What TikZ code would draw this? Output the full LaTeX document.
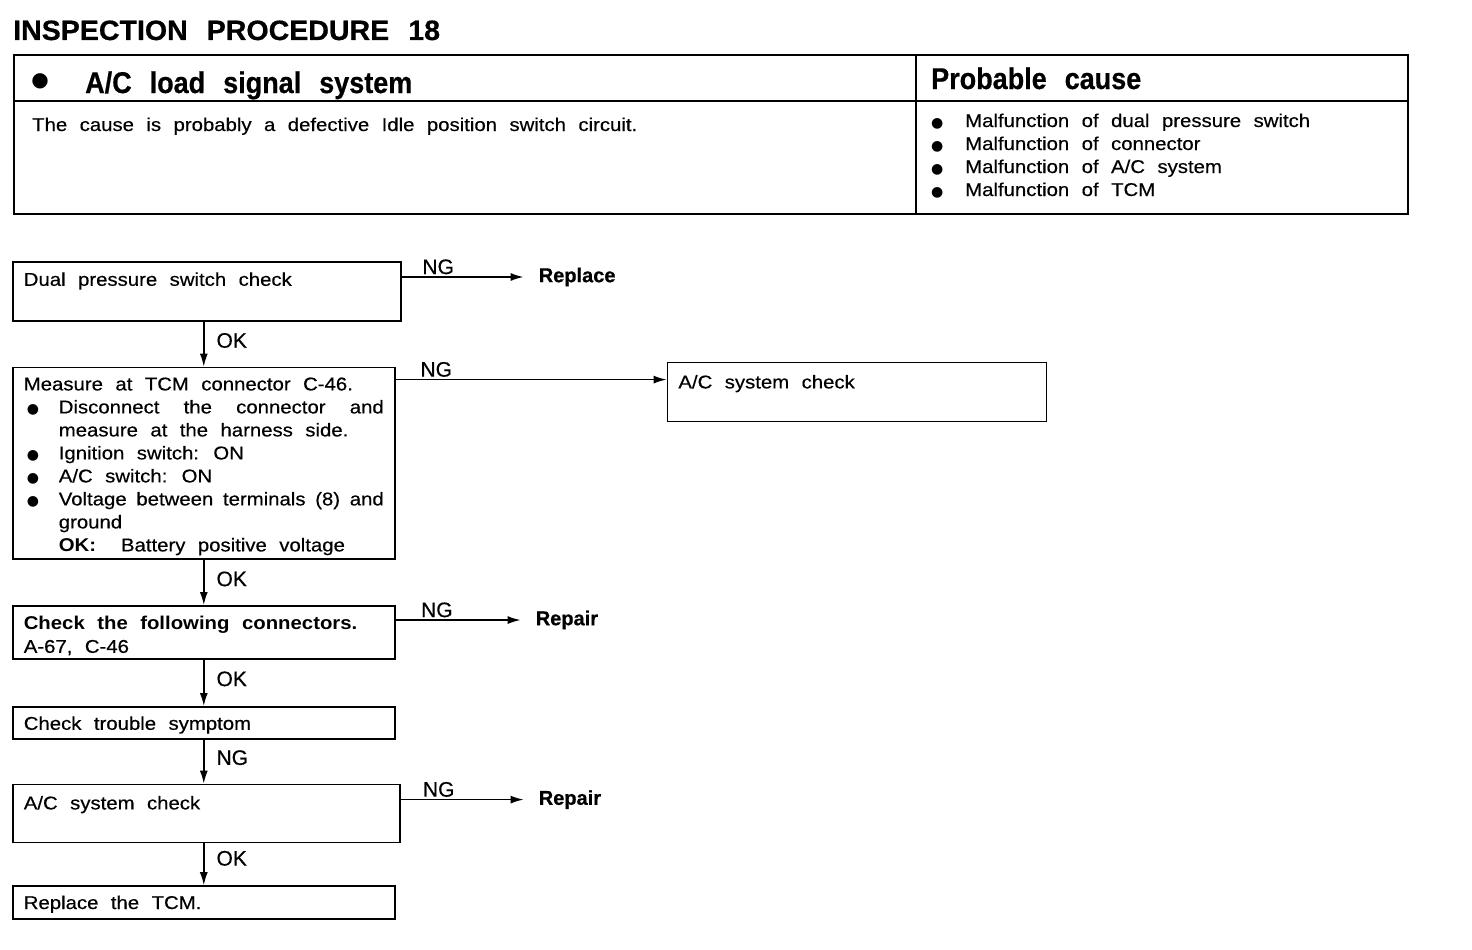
\documentclass[tikz,border=0pt]{standalone}
\usepackage{fontspec}
\setmainfont{Liberation Sans}[FakeStretch=1.1,WordSpace=2.2,UprightFeatures={FakeBold=0.4}]
\newfontfamily\hdfont{Liberation Sans}[WordSpace=2.4,UprightFeatures={FakeBold=0.5},BoldFeatures={FakeBold=0.6}]
\newfontfamily\symfont{DejaVu Sans}
\usetikzlibrary{arrows.meta,positioning,calc}

\newcommand\txtsize{\fontsize{18.5}{23}\selectfont}
\newcommand\bul{{\symfont\fontsize{14}{14}\selectfont ●}}
\newcommand\bigbul{{\symfont\fontsize{20}{20}\selectfont ●}}
\newcommand\itm[1]{\par\hangindent=35pt\hangafter=1\noindent\makebox[35pt][l]{\hspace{3pt}\bul}#1\par}

\begin{document}
\begin{tikzpicture}[x=1pt,y=1pt,node distance=45pt,
  frame/.style={draw,line width=1.8pt},
  box/.style={rectangle,draw,line width=1.6pt,inner xsep=11pt,inner ysep=4pt,
              text width=360pt,align=justify,font=\txtsize},
  plain/.style={anchor=base west,inner sep=0pt,font=\txtsize},
  head/.style={anchor=base west,inner sep=0pt,font=\hdfont\fontsize{30}{30}\selectfont\bfseries\addfontfeature{FakeStretch=0.9}},
  lbl/.style={font=\hdfont\fontsize{21}{21}\selectfont,inner sep=2pt},
  res/.style={anchor=west,inner sep=0pt,font=\hdfont\fontsize{20}{20}\selectfont\bfseries},
  flow/.style={draw,-{Latex[length=13pt,width=8pt]},line width=1.5pt}]
\useasboundingbox (0,0) rectangle (1472,-950);

% heading and cause table
\node[anchor=base west,inner sep=0pt,font=\hdfont\fontsize{28}{28}\selectfont\bfseries\addfontfeature{FakeStretch=1.02}] (title) at (13,-40) {INSPECTION PROCEDURE 18};
\draw[frame] (14,-55) rectangle (1408,-214);
\draw[frame] (14,-101) -- (1408,-101);
\draw[frame] (916,-55) -- (916,-214);
\node[inner sep=0pt] (hdbul) at (40,-81) {\bigbul};
\node[head] (hdA) at (85,-93) {A/C load signal system};
\node[head] (hdB) at (931,-89) {Probable cause};
\node[plain] (cause) at (32,-131) {The cause is probably a defective Idle position switch circuit.};
\node[plain] (pc1) at (931,-127) {\makebox[34pt][l]{\bul}Malfunction of dual pressure switch};
\node[plain] (pc2) at (931,-150) {\makebox[34pt][l]{\bul}Malfunction of connector};
\node[plain] (pc3) at (931,-173) {\makebox[34pt][l]{\bul}Malfunction of A/C system};
\node[plain] (pc4) at (931,-196) {\makebox[34pt][l]{\bul}Malfunction of TCM};

% flow chart
\node[box,text width=366pt,text height=20pt,text depth=31pt,anchor=north west] (dps) at (12,-261) {Dual pressure switch check};
\node[box,text height=19pt,below=of dps.south west,anchor=north west] (meas)
  {Measure at TCM connector C-46.
   \itm{Disconnect the connector and\linebreak measure at the harness side.}
   \itm{Ignition switch: ON}
   \itm{A/C switch: ON}
   \itm{Voltage between terminals (8) and\linebreak ground\hfil\break\textbf{OK:}\ \ Battery positive voltage}};
\node[box,text height=20pt,below=of meas.south west,anchor=north west] (conn) {\textbf{Check the following connectors.}\par A-67, C-46};
\node[box,text height=19pt,text depth=5pt,below=46pt of conn.south west,anchor=north west] (sym) {Check trouble symptom};
\node[box,text width=365pt,text height=21pt,text depth=29pt,below=44pt of sym.south west,anchor=north west] (acl) {A/C system check};
\node[box,text height=19pt,text depth=6pt,below=42pt of acl.south west,anchor=north west] (tcm) {Replace the TCM.};
\node[box,text width=357pt,text height=22pt,text depth=29pt,anchor=north west] (acr) at ([xshift=271pt,yshift=5pt]meas.north east) {A/C system check};

\node[res] (rep) at ([xshift=137pt,yshift=-16pt]dps.north east) {Replace};
\node[res] (rp1) at ([xshift=140pt,yshift=-15pt]conn.north east) {Repair};
\node[res] (rp2) at ([xshift=138pt,yshift=-16pt]acl.north east) {Repair};
\coordinate (ngin) at ([yshift=-18pt]acr.north west);

\draw[flow] (rep -| dps.east) -- node[lbl,above,pos=0.3]{NG} ([xshift=-15pt]rep.west);
\draw[flow] (ngin -| meas.east) -- node[lbl,above,pos=0.15]{NG} (ngin);
\draw[flow] (rp1 -| conn.east) -- node[lbl,above,pos=0.33]{NG} ([xshift=-15pt]rp1.west);
\draw[flow] (rp2 -| acl.east) -- node[lbl,above,pos=0.31]{NG} ([xshift=-15pt]rp2.west);

\draw[flow] (meas.north |- dps.south) -- node[lbl,right=10pt,pos=0.42]{OK} (meas.north);
\draw[flow] (conn.north |- meas.south) -- node[lbl,right=10pt,pos=0.42]{OK} (conn.north);
\draw[flow] (sym.north |- conn.south) -- node[lbl,right=10pt,pos=0.41]{OK} (sym.north);
\draw[flow] (sym.south) -- node[lbl,right=10pt,pos=0.41]{NG} (sym.south |- acl.north);
\draw[flow] (sym.south |- acl.south) -- node[lbl,right=10pt,pos=0.36]{OK} (sym.south |- tcm.north);
\end{tikzpicture}
\end{document}
